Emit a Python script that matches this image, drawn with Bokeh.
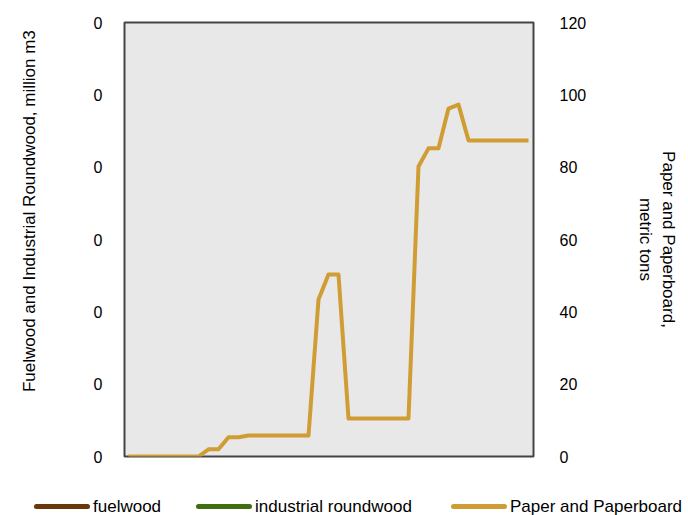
from bokeh.plotting import figure
from bokeh.layouts import column
from bokeh.models import (Range1d, LinearAxis, FixedTicker, NumeralTickFormatter, Div)
from bokeh.embed import file_html
from bokeh.resources import INLINE

NaN = float("nan")

# ---- data ----
years = list(range(1961, 2002))
paper = [0, 0, 0, 0, 0, 0, 0, 0, 2, 2,
         5.3, 5.3, 5.8, 5.8, 5.8, 5.8, 5.8, 5.8, 5.8, 43.4,
         50.3, 50.3, 10.5, 10.5, 10.5, 10.5, 10.5, 10.5, 10.5, 80.2,
         85.2, 85.2, 96.2, 97.3, 87.4, 87.4, 87.4, 87.4, 87.4, 87.4, 87.4]
# fuelwood / industrial roundwood: no values are shown in the chart (missing)
fuel_years = [1961]
fuelwood = [NaN]
industrial = [NaN]
left_ticks = [0, 0.001, 0.002, 0.003, 0.004, 0.005, 0.006]
right_ticks = [0, 20, 40, 60, 80, 100, 120]
series_names = ["fuelwood", "industrial roundwood", "Paper and Paperboard"]

FONT = "Liberation Sans"
GOLD = "#D09D35"
BROWN = "#6B3608"
GREEN = "#3E6E10"
colors = [BROWN, GREEN, GOLD]

p = figure(width=680, height=480, output_backend="svg", toolbar_location=None,
           x_range=Range1d(1960.6, 2001.5), y_range=Range1d(0, 0.006),
           x_axis_location=None, y_axis_location="left",
           min_border_left=124, min_border_right=147, min_border_top=22,
           min_border_bottom=24)
p.extra_y_ranges = {"paper": Range1d(0, 120)}

p.background_fill_color = "#E8E8E8"
p.border_fill_color = "white"
p.outline_line_color = "#444444"
p.outline_line_width = 2
p.xgrid.visible = False
p.ygrid.visible = False

ly = p.yaxis[0]
ly.ticker = FixedTicker(ticks=left_ticks)
ly.formatter = NumeralTickFormatter(format="0")
# leading no-break spaces shift the visible label upward like the reference
ly.axis_label = "\u00a0" * 12 + "Fuelwood and Industrial Roundwood, million m3"

ry = LinearAxis(y_range_name="paper", ticker=FixedTicker(ticks=right_ticks),
                axis_label="Paper and Paperboard,\nmetric tons")
p.add_layout(ry, "right")

for ax, st in ((ly, 52), (ry, 47)):
    ax.axis_line_color = None
    ax.major_tick_line_color = None
    ax.minor_tick_line_color = None
    ax.major_label_text_font = FONT
    ax.major_label_text_font_size = "16px"
    ax.major_label_text_color = "black"
    ax.major_label_standoff = 16 if ax is ly else 20
    ax.axis_label_text_font = FONT
    ax.axis_label_text_font_size = "17px"
    ax.axis_label_text_font_style = "normal"
    ax.axis_label_text_color = "black"
    ax.axis_label_standoff = st
ry.axis_label_text_align = "center"

p.line(fuel_years, fuelwood, line_color=BROWN, line_width=4)
p.line(fuel_years, industrial, line_color=GREEN, line_width=4)
p.line(years, paper, y_range_name="paper", line_color=GOLD, line_width=4,
       line_join="round")

# ---- legend strip below the chart (HTML text) ----
item_lefts = [34, 196, 451]
parts = []
for name, col, left in zip(series_names, colors, item_lefts):
    parts.append(
        f'<div style="position:absolute;left:{left}px;top:24px;width:56px;height:5px;'
        f'border-radius:2.5px;background:{col}"></div>'
        f'<div style="position:absolute;left:{left + 59}px;top:17px;line-height:20px;'
        f'white-space:nowrap;font-family:\'{FONT}\';font-size:17px;color:black">{name}</div>')
legend_div = Div(text='<div style="position:relative;width:680px;height:34px">'
                      + "".join(parts) + "</div>",
                 width=680, height=34, margin=0)

open("out.html", "w").write(file_html(column(p, legend_div, spacing=0), INLINE))
